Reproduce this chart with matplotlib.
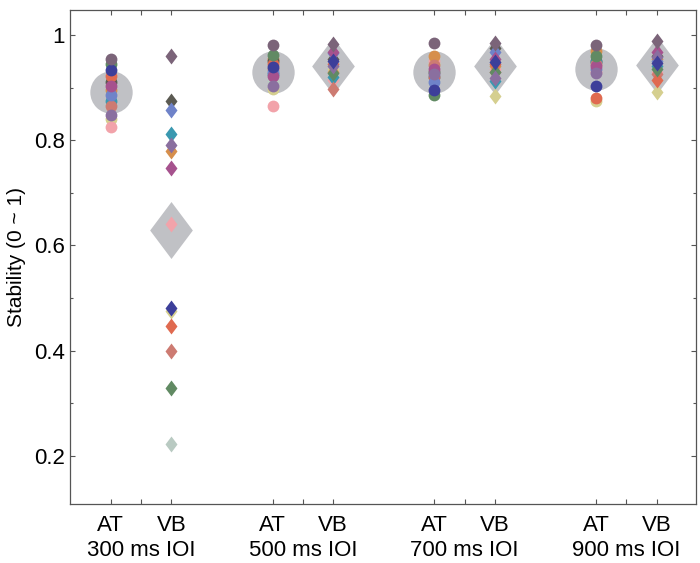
# Stability per subject, AT vs VB at each IOI, with the group mean drawn behind.
import numpy as np
import matplotlib
matplotlib.use("Agg")
import matplotlib.pyplot as plt
from matplotlib.ticker import MultipleLocator, FormatStrFormatter

plt.rcParams["font.family"] = ["Liberation Sans", "DejaVu Sans"]

groups = ["300 ms IOI", "500 ms IOI", "700 ms IOI", "900 ms IOI"]
# listed in drawing order (later ones end up on top)
subj_colors = ["#b9cac2", "#d5cf8f", "#f2a3aa", "#d68f4c", "#5b5a52", "#3a98b0", "#cd7b72",
               "#e06a50", "#6f83c9", "#a6528e", "#618a63", "#8a6f9f", "#3d3f9a", "#7b6479"]

# one value per subject (same order as subj_colors)
at_300 = [0.870, 0.840, 0.825, 0.895, 0.910, 0.875, 0.864, 0.921, 0.886, 0.903, 0.945, 0.848, 0.933, 0.954]
vb_300 = [0.222, 0.475, 0.640, 0.780, 0.875, 0.812, 0.400, 0.447, 0.858, 0.748, 0.330, 0.790, 0.482, 0.960]
at_500 = [0.910, 0.898, 0.864, 0.955, 0.950, 0.925, 0.935, 0.945, 0.930, 0.922, 0.961, 0.902, 0.939, 0.981]
vb_500 = [0.930, 0.935, 0.915, 0.930, 0.955, 0.920, 0.897, 0.945, 0.965, 0.968, 0.927, 0.940, 0.951, 0.982]
at_700 = [0.910, 0.945, 0.950, 0.959, 0.930, 0.920, 0.943, 0.920, 0.911, 0.935, 0.886, 0.926, 0.895, 0.985]
vb_700 = [0.940, 0.884, 0.935, 0.940, 0.975, 0.912, 0.930, 0.945, 0.968, 0.955, 0.930, 0.918, 0.949, 0.984]
at_900 = [0.955, 0.875, 0.930, 0.970, 0.950, 0.948, 0.945, 0.880, 0.935, 0.940, 0.959, 0.927, 0.902, 0.980]
vb_900 = [0.950, 0.892, 0.930, 0.955, 0.960, 0.940, 0.925, 0.914, 0.950, 0.968, 0.935, 0.958, 0.946, 0.989]

at_vals = [at_300, at_500, at_700, at_900]
vb_vals = [vb_300, vb_500, vb_700, vb_900]

# MATLAB-ish diamond (a bit taller than wide)
diamond = [(0, 1), (0.75, 0), (0, -1), (-0.75, 0), (0, 1)]
MEAN_C = "#c0c1c5"
OFF = 0.1875

fig = plt.figure(figsize=(7.0, 5.63), dpi=100)
ax = fig.add_axes([0.1, 0.105, 0.894, 0.877])

for g in range(len(groups)):
    xa, xv = g + 1 - OFF, g + 1 + OFF
    ax.plot(xa, np.mean(at_vals[g]), "o", ms=30.5, color=MEAN_C, mec="none", zorder=2)
    ax.plot(xv, np.mean(vb_vals[g]), marker=diamond, ms=41, color=MEAN_C, mec="none", ls="none", zorder=2)
    for c, a, v in zip(subj_colors, at_vals[g], vb_vals[g]):
        ax.plot(xa, a, "o", ms=8.5, color=c, mec="none", zorder=3)
        ax.plot(xv, v, marker=diamond, ms=11.5, color=c, mec="none", ls="none", zorder=3)

ax.set_xlim(0.56, 4.43)
ax.set_ylim(0.109, 1.047)

# AT/VB as major ticks, IOI as label-only minor ticks underneath
ax.set_xticks([g + 1 + s for g in range(len(groups)) for s in (-OFF, OFF)])
ax.set_xticklabels(["AT", "VB"] * len(groups))
ax.set_xticks(np.arange(1, len(groups) + 1), minor=True)
ax.set_xticklabels(groups, minor=True)
ax.tick_params(axis="x", which="minor", length=0, pad=26)

ax.yaxis.set_major_locator(MultipleLocator(0.2))
ax.yaxis.set_minor_locator(MultipleLocator(0.1))
ax.yaxis.set_major_formatter(FormatStrFormatter("%g"))
ax.tick_params(which="both", direction="in", top=True, right=True, color="#555555",
               labelsize=16, length=3.5, width=0.8)
ax.tick_params(axis="x", which="major", pad=8)
ax.tick_params(axis="y", which="minor", length=2.5)

for s in ax.spines.values():
    s.set_color("#555555")
    s.set_linewidth(0.9)

ax.set_ylabel("Stability (0 ~ 1)", fontsize=15, labelpad=6)

fig.savefig("out.png", dpi=100)
